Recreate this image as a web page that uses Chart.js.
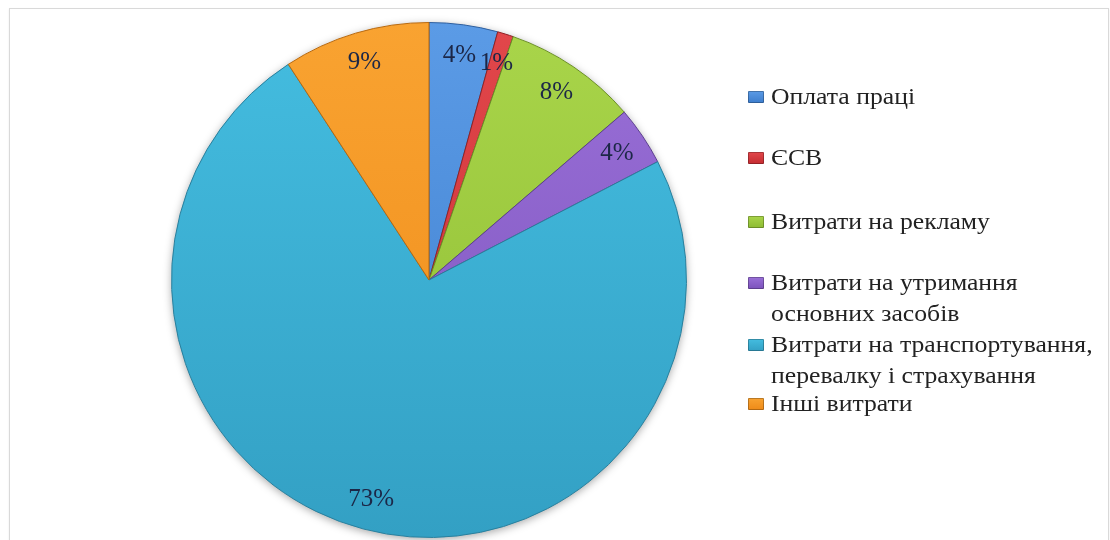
<!DOCTYPE html>
<html lang="uk">
<head>
<meta charset="utf-8">
<title>Структура витрат</title>
<script src="https://cdn.jsdelivr.net/npm/chart.js@4.4.1/dist/chart.umd.min.js"></script>
<style>
    html, body { margin: 0; padding: 0; background: #fff; }
    #wrap { position: relative; width: 1110px; height: 540px; overflow: hidden; }
    #frame {
        position: absolute; left: 9px; top: 8px; width: 1098px; height: 560px;
        border: 1px solid #d9d9d9; box-shadow: 0 1px 2px rgba(0,0,0,0.08);
    }
    #chart { position: absolute; left: 0; top: 0; }
    #legend { position: absolute; left: 0; top: 0; font-family: "Liberation Serif", "DejaVu Serif", serif; font-size: 24px; color: #222; }
    .lg-item { position: absolute; left: 748px; white-space: nowrap; line-height: 31px; }
    .lg-box {
        position: absolute; left: 0; top: 10px; width: 16px; height: 12px;
        border-radius: 1px; box-shadow: inset 0 0 0 1px rgba(0,0,0,0.25);
    }
    .lg-text { position: absolute; left: 23px; top: 0; transform: scaleX(1.07); transform-origin: left center; }
</style>
</head>
<body>
<div id="wrap">
    <div id="frame"></div>
    <canvas id="chart" width="1110" height="540"></canvas>
    <div id="legend"></div>
</div>
<script>
// --- data (percent of total costs) ---
const categories = [
    ['Оплата праці'],
    ['ЄСВ'],
    ['Витрати на рекламу'],
    ['Витрати на утримання', 'основних засобів'],
    ['Витрати на транспортування,', 'перевалку і страхування'],
    ['Інші витрати']
];
const shares = [4.3, 1.0, 8.4, 3.7, 73.4, 9.2];

// --- styling ---
const topColors = ['#5b9be6', '#e2474b', '#a9d54a', '#9a70d8', '#44bde0', '#f9a331'];
const bottomColors = ['#3d7dcc', '#c42c31', '#8dbb32', '#7b52bb', '#33a0c4', '#ee8a18'];
const edgeColors = ['#2f5f9e', '#8e2226', '#6b8f26', '#5b3d8f', '#2a7f9c', '#b8690f'];
const legendTops = [81, 142, 206, 267, 329, 388];

function sliceFill(ctx) {
    const i = ctx.dataIndex;
    const area = ctx.chart.chartArea;
    if (!area) return bottomColors[i];
    const g = ctx.chart.ctx.createLinearGradient(0, area.top, 0, area.bottom);
    g.addColorStop(0, topColors[i]);
    g.addColorStop(1, bottomColors[i]);
    return g;
}

const pieShadow = {
    id: 'pieShadow',
    beforeDatasetsDraw(chart) {
        const arc = chart.getDatasetMeta(0).data[0];
        if (!arc) return;
        const ctx = chart.ctx;
        ctx.save();
        ctx.shadowColor = 'rgba(0,0,0,0.35)';
        ctx.shadowBlur = 8;
        ctx.shadowOffsetY = 2;
        ctx.fillStyle = '#fff';
        ctx.beginPath();
        ctx.arc(arc.x, arc.y, arc.outerRadius, 0, Math.PI * 2);
        ctx.fill();
        ctx.restore();
    }
};

const sliceLabels = {
    id: 'sliceLabels',
    afterDatasetsDraw(chart) {
        const ctx = chart.ctx;
        const meta = chart.getDatasetMeta(0);
        ctx.save();
        ctx.font = '25px "Liberation Serif", "DejaVu Serif", serif';
        ctx.fillStyle = '#1c2747';
        ctx.textAlign = 'center';
        ctx.textBaseline = 'middle';
        meta.data.forEach((arc, i) => {
            const mid = (arc.startAngle + arc.endAngle) / 2;
            const r = arc.outerRadius * 0.88;
            ctx.fillText(Math.round(shares[i]) + '%', arc.x + Math.cos(mid) * r, arc.y + Math.sin(mid) * r);
        });
        ctx.restore();
    }
};

new Chart(document.getElementById('chart'), {
    type: 'pie',
    data: {
        labels: categories.map((c) => c.join(' ')),
        datasets: [{
            data: shares,
            backgroundColor: sliceFill,
            borderColor: edgeColors,
            borderWidth: 1
        }]
    },
    options: {
        responsive: false,
        animation: false,
        layout: { padding: { left: 171, right: 423, top: 22, bottom: 2 } },
        plugins: {
            legend: { display: false },
            tooltip: { enabled: false }
        }
    },
    plugins: [pieShadow, sliceLabels]
});

// legend built from the same category list
const legend = document.getElementById('legend');
categories.forEach((lines, i) => {
    const item = document.createElement('div');
    item.className = 'lg-item';
    item.style.top = legendTops[i] + 'px';
    const box = document.createElement('span');
    box.className = 'lg-box';
    box.style.background = `linear-gradient(${topColors[i]}, ${bottomColors[i]})`;
    const text = document.createElement('span');
    text.className = 'lg-text';
    text.innerHTML = lines.join('<br>');
    item.appendChild(box);
    item.appendChild(text);
    legend.appendChild(item);
});
</script>
</body>
</html>
